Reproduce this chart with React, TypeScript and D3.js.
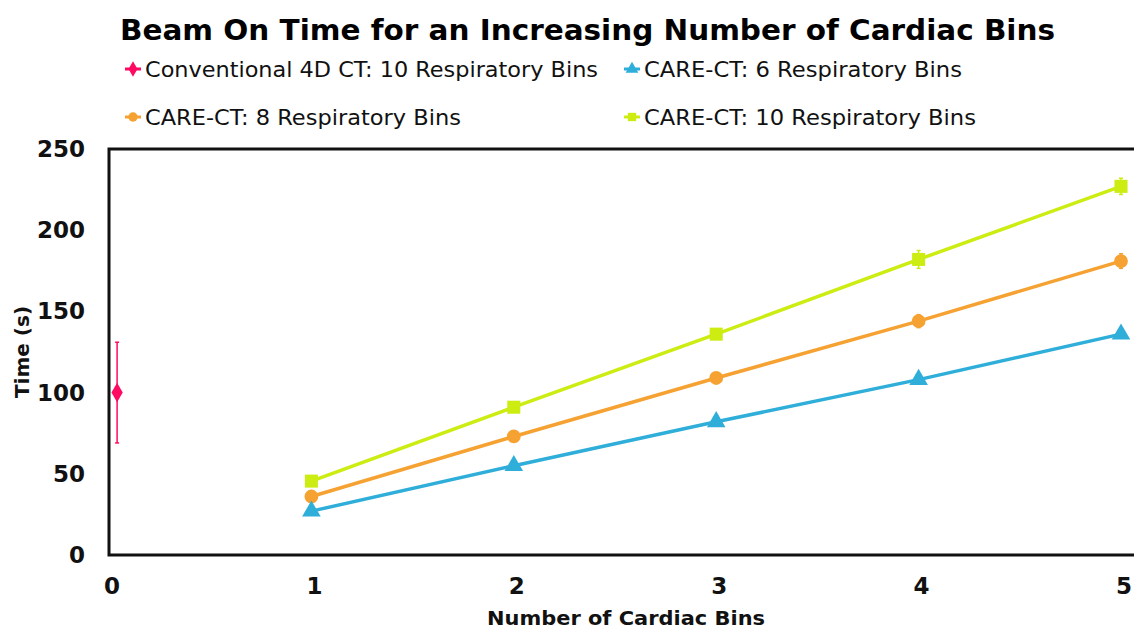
import React from "react";
import * as d3 from "d3";

const bins = [1, 2, 3, 4, 5];
const care6 = [27, 55, 82, 108, 136];
const care6Err = [1, 1.5, 2, 2, 2.5];
const care8 = [36, 73, 109, 144, 181];
const care8Err = [1, 2, 2.5, 4, 4.5];
const care10 = [45.5, 91, 136, 182, 227];
const care10Err = [1.5, 3, 3, 5.5, 5];
const convX = [0.04];
const convY = [100];
const convErr = [31];
const xTicks = [0, 1, 2, 3, 4, 5];
const yTicks = [0, 50, 100, 150, 200, 250];

const W = 1134, H = 630;
const x = d3.scaleLinear().domain([0, 5]).range([109, 1121]);
const y = d3.scaleLinear().domain([0, 250]).range([555, 149]);
const font = "'DejaVu Sans', 'Lato', sans-serif";

const series = [
  { name: "CARE-CT: 10 Respiratory Bins", vals: care10, err: care10Err, color: "#CCEC12", shape: d3.symbolSquare, size: 170 },
  { name: "CARE-CT: 8 Respiratory Bins", vals: care8, err: care8Err, color: "#F6A232", shape: d3.symbolCircle, size: 150 },
  { name: "CARE-CT: 6 Respiratory Bins", vals: care6, err: care6Err, color: "#2FAEDA", shape: d3.symbolTriangle, size: 150 },
];

const legend = [
  { name: "Conventional 4D CT: 10 Respiratory Bins", color: "#FF0A63", shape: d3.symbolDiamond, lx: 133, ly: 69, len: 453 },
  { name: "CARE-CT: 6 Respiratory Bins", color: "#2FAEDA", shape: d3.symbolTriangle, lx: 632, ly: 69, len: 318 },
  { name: "CARE-CT: 8 Respiratory Bins", color: "#F6A232", shape: d3.symbolCircle, lx: 133, ly: 117, len: 316 },
  { name: "CARE-CT: 10 Respiratory Bins", color: "#CCEC12", shape: d3.symbolSquare, lx: 632, ly: 117, len: 332 },
];

export default function App() {
  const line = d3.line<number>().x((_, i) => x(bins[i])).y((d) => y(d));
  return (
    <svg width={W} height={H} style={{ position: "absolute", left: 0, top: 0, background: "#fff" }} fontFamily={font}>
      <text x={120} y={40} fontSize={28} fontWeight={700} fill="#000" textLength={935} lengthAdjust="spacingAndGlyphs">
        Beam On Time for an Increasing Number of Cardiac Bins
      </text>
      {legend.map((l) => (
        <g key={l.name}>
          <line x1={l.lx - 8} x2={l.lx + 8} y1={l.ly} y2={l.ly} stroke={l.color} strokeWidth={3} />
          <path d={d3.symbol().type(l.shape).size(70)() || ""} transform={`translate(${l.lx},${l.ly})`} fill={l.color} />
          <text x={l.lx + 12} y={l.ly + 8} fontSize={21} fill="#111" textLength={l.len} lengthAdjust="spacingAndGlyphs">{l.name}</text>
        </g>
      ))}
      {yTicks.map((t) => (
        <text key={t} x={85} y={y(t) + 8} textAnchor="end" fontSize={23} fontWeight={700} fill="#111">{t}</text>
      ))}
      {xTicks.map((t) => (
        <text key={t} x={x(t) + 3} y={594} textAnchor="middle" fontSize={23} fontWeight={700} fill="#111">{t}</text>
      ))}
      <text transform="translate(29,352) rotate(-90)" textAnchor="middle" fontSize={20} fontWeight={700} fill="#111">Time (s)</text>
      <text x={626} y={625} textAnchor="middle" fontSize={20} fontWeight={700} fill="#111" textLength={278} lengthAdjust="spacingAndGlyphs">Number of Cardiac Bins</text>
      <path d={`M1134,${y(250)}H${x(0)}V${y(0)}H1134`} fill="none" stroke="#111" strokeWidth={3} />
      {convX.map((cx, i) => (
        <g key={i}>
          <line x1={x(cx)} x2={x(cx)} y1={y(convY[i] + convErr[i])} y2={y(convY[i] - convErr[i])} stroke="#FF0A63" strokeWidth={1.5} />
          <line x1={x(cx) - 2} x2={x(cx) + 2} y1={y(convY[i] + convErr[i])} y2={y(convY[i] + convErr[i])} stroke="#FF0A63" strokeWidth={1.5} />
          <line x1={x(cx) - 2} x2={x(cx) + 2} y1={y(convY[i] - convErr[i])} y2={y(convY[i] - convErr[i])} stroke="#FF0A63" strokeWidth={1.5} />
          <path d={d3.symbol().type(d3.symbolDiamond).size(110)() || ""} transform={`translate(${x(cx)},${y(convY[i])})`} fill="#FF0A63" />
        </g>
      ))}
      {series.map((s) => (
        <g key={s.name}>
          <path d={line(s.vals) || ""} fill="none" stroke={s.color} strokeWidth={3.5} />
          {s.vals.map((v, i) => (
            <g key={i}>
              <line x1={x(bins[i])} x2={x(bins[i])} y1={y(v + s.err[i])} y2={y(v - s.err[i])} stroke={s.color} strokeWidth={1.5} />
              <line x1={x(bins[i]) - 2} x2={x(bins[i]) + 2} y1={y(v + s.err[i])} y2={y(v + s.err[i])} stroke={s.color} strokeWidth={1.5} />
              <line x1={x(bins[i]) - 2} x2={x(bins[i]) + 2} y1={y(v - s.err[i])} y2={y(v - s.err[i])} stroke={s.color} strokeWidth={1.5} />
              <path d={d3.symbol().type(s.shape).size(s.size)() || ""} transform={`translate(${x(bins[i])},${y(v)})`} fill={s.color} />
            </g>
          ))}
        </g>
      ))}
    </svg>
  );
}
